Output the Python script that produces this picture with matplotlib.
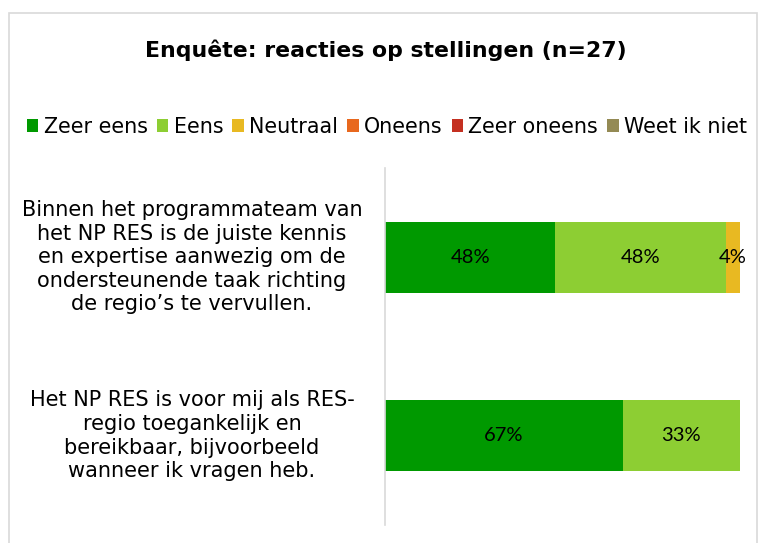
import matplotlib.pyplot as plt
from matplotlib.patches import Rectangle, Patch

# Gegevens
stellingen = [
    "Binnen het programmateam van\nhet NP RES is de juiste kennis\nen expertise aanwezig om de\nondersteunende taak richting\nde regio\u2019s te vervullen.",
    "Het NP RES is voor mij als RES-\nregio toegankelijk en\nbereikbaar, bijvoorbeeld\nwanneer ik vragen heb.",
]
categorieen = ["Zeer eens", "Eens", "Neutraal", "Oneens", "Zeer oneens", "Weet ik niet"]
kleuren = ["#009900", "#8DCE33", "#E8B922", "#E8681E", "#C43021", "#948A54"]
zeer_eens = [48, 67]
eens = [48, 33]
neutraal = [4, 0]
oneens = [0, 0]
zeer_oneens = [0, 0]
weet_niet = [0, 0]

reeksen = [zeer_eens, eens, neutraal, oneens, zeer_oneens, weet_niet]

fig = plt.figure(figsize=(7.71, 5.43), dpi=100)
ax = fig.add_axes([385 / 771, 1 - 525 / 543, (740 - 385) / 771, (525 - 168) / 543])

# Rand om de figuur
fig.patches.append(Rectangle((9 / 771, -0.05), (757 - 9) / 771, 1.05 - 13 / 543,
                             transform=fig.transFigure, fill=False,
                             edgecolor="#D9D9D9", linewidth=1.2))

y = [0, 1]
links = [0, 0]
for naam, waarden, kleur in zip(categorieen, reeksen, kleuren):
    ax.barh(y, waarden, left=links, height=0.4, color=kleur, label=naam)
    for i, w in enumerate(waarden):
        if w > 0:
            ax.text(links[i] + w / 2, y[i], f"{w}%", ha="center", va="center",
                    fontsize=14.5, family="Lato", color="black")
    links = [l + w for l, w in zip(links, waarden)]

ax.set_xlim(0, 100)
ax.set_ylim(1.5, -0.5)
ax.set_xticks([])
ax.set_yticks([])
for s in ["top", "right", "bottom"]:
    ax.spines[s].set_visible(False)
ax.spines["left"].set_color("#D9D9D9")
ax.spines["left"].set_linewidth(1.2)

# labels links, midden op ~192px
xlabel = (192 - 385) / (740 - 385)
for i, tekst in enumerate(stellingen):
    ax.text(xlabel, y[i], tekst, transform=ax.get_yaxis_transform(),
            ha="center", va="center", fontsize=15, linespacing=1.22,
            color="black")

fig.text(386 / 771, 1 - 50 / 543, "Enqu\u00eate: reacties op stellingen (n=27)",
         ha="center", va="center", fontsize=15.8, fontweight="bold")

handles = [Patch(facecolor=k, label=c) for c, k in zip(categorieen, kleuren)]
fig.legend(handles=handles, loc="center", bbox_to_anchor=(387 / 771, 1 - 127 / 543),
           ncol=6, frameon=False, fontsize=14.9, handlelength=0.55, handleheight=0.55,
           handletextpad=0.25, columnspacing=0.45, borderaxespad=0)

fig.savefig("out.png", dpi=100)
